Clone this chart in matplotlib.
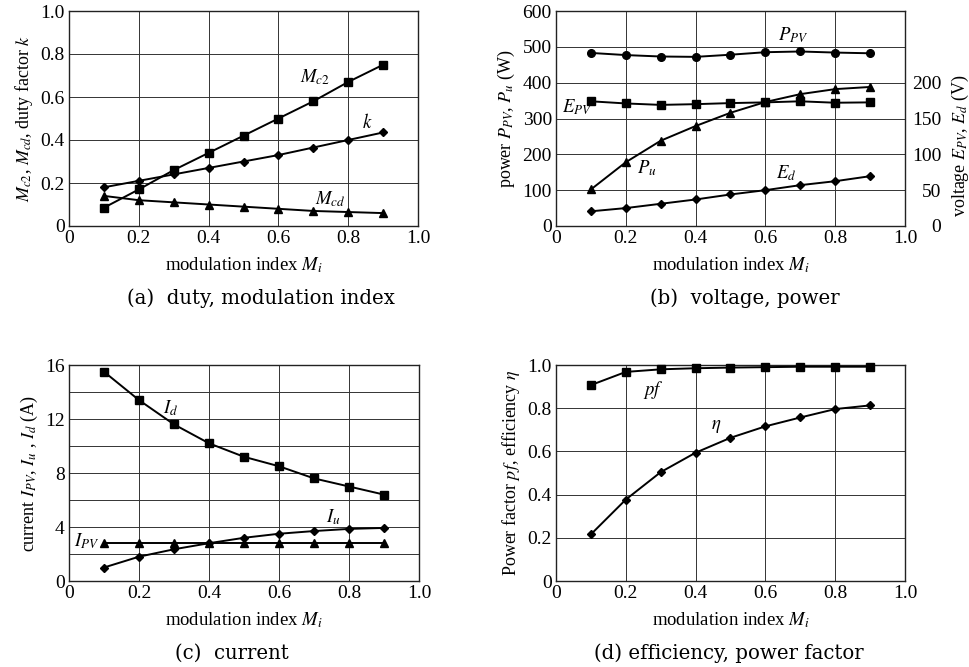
import matplotlib
matplotlib.use("Agg")
import matplotlib.pyplot as plt
from matplotlib.ticker import MultipleLocator

plt.rcParams['font.family'] = ['Liberation Serif', 'DejaVu Serif']
plt.rcParams['mathtext.fontset'] = 'stix'

# ---- data ----
mi = [0.1, 0.2, 0.3, 0.4, 0.5, 0.6, 0.7, 0.8, 0.9]

# (a) duty, modulation index
mc2 = [0.085, 0.17, 0.26, 0.34, 0.42, 0.50, 0.58, 0.67, 0.75]
k_factor = [0.18, 0.21, 0.24, 0.27, 0.30, 0.33, 0.365, 0.40, 0.435]
mcd = [0.14, 0.12, 0.11, 0.10, 0.09, 0.08, 0.07, 0.065, 0.06]

# (b) voltage, power
p_pv = [483, 477, 473, 472, 478, 485, 487, 484, 482]
p_u = [102, 178, 238, 279, 316, 346, 368, 382, 388]
e_pv = [174, 171, 169, 170, 171.5, 172.5, 174, 172, 172.5]
e_d = [20.5, 25, 31, 37, 44, 50, 57, 62.5, 69.5]

# (c) current
i_d = [15.5, 13.4, 11.6, 10.2, 9.2, 8.5, 7.6, 7.0, 6.4]
i_u = [1.0, 1.8, 2.35, 2.8, 3.2, 3.5, 3.7, 3.86, 3.93]
i_pv = [2.8, 2.8, 2.8, 2.8, 2.8, 2.8, 2.8, 2.8, 2.8]

# (d) efficiency, power factor
pf = [0.907, 0.968, 0.98, 0.985, 0.988, 0.99, 0.992, 0.992, 0.992]
eta = [0.216, 0.377, 0.504, 0.594, 0.663, 0.716, 0.757, 0.796, 0.813]

xticks = [0, 0.2, 0.4, 0.6, 0.8, 1.0]
xticklabels = ['0', '0.2', '0.4', '0.6', '0.8', '1.0']

W, H = 970, 667
fig = plt.figure(figsize=(W / 100, H / 100), dpi=100)

TICK_FS = 14
XLAB_FS = 13.5
YLAB_FS = 13
ANN_FS = 13.5
CAP_FS = 14.2
LW = 1.4
GRID_C = '#333333'
CAP_FONT = ['DejaVu Serif']


def box(l, t, r, b):
    return [l / W, 1 - b / H, (r - l) / W, (b - t) / H]


def style(ax, ymax, ystep, yticklabels, minor=None):
    ax.set_xlim(0, 1.0)
    ax.set_ylim(0, ymax)
    ax.set_xticks(xticks)
    ax.set_xticklabels(xticklabels)
    yt = [i * ystep for i in range(len(yticklabels))]
    ax.set_yticks(yt)
    ax.set_yticklabels(yticklabels)
    if minor is not None:
        ax.yaxis.set_minor_locator(MultipleLocator(minor))
        ax.grid(True, which='minor', axis='y', color=GRID_C, lw=0.7)
    ax.grid(True, which='major', color=GRID_C, lw=0.7)
    ax.set_axisbelow(True)
    ax.tick_params(which='both', length=0, labelsize=TICK_FS, pad=3)
    for s in ax.spines.values():
        s.set_linewidth(1.0)
        s.set_color('#222222')
    ax.set_xlabel('modulation index $M_i$', fontsize=XLAB_FS, labelpad=6)


def line(ax, y, marker, ms):
    ax.plot(mi, y, color='black', lw=LW, marker=marker, ms=ms,
            markeredgecolor='black', markerfacecolor='black', clip_on=False, zorder=3)


# (a)
ax = fig.add_axes(box(69, 11, 418, 226))
style(ax, 1.0, 0.2, ['0', '0.2', '0.4', '0.6', '0.8', '1.0'])
line(ax, mc2, 's', 6)
line(ax, k_factor, 'D', 4.2)
line(ax, mcd, '^', 6)
ax.text(0.705, 0.69, '$M_{c2}$', fontsize=ANN_FS, ha='center', va='center')
ax.text(0.855, 0.48, '$k$', fontsize=ANN_FS, ha='center', va='center')
ax.text(0.75, 0.125, '$M_{cd}$', fontsize=ANN_FS, ha='center', va='center')
ax.set_ylabel('$M_{c2}$, $M_{cd}$, duty factor $k$', fontsize=YLAB_FS, labelpad=4)

# (b)
ax = fig.add_axes(box(556, 11, 905, 226))
style(ax, 600, 100, ['0', '100', '200', '300', '400', '500', '600'])
line(ax, p_pv, 'o', 5.5)
line(ax, p_u, '^', 6)
ax.set_ylabel('power $P_{PV}$, $P_u$ (W)', fontsize=YLAB_FS, labelpad=4)
ax2 = ax.twinx()
ax2.set_ylim(0, 300)
ax2.set_yticks([0, 50, 100, 150, 200])
ax2.set_yticklabels(['0', '50', '100', '150', '200'])
ax2.tick_params(length=0, labelsize=TICK_FS, pad=26)
for t in ax2.get_yticklabels():
    t.set_horizontalalignment('right')
for s in ax2.spines.values():
    s.set_visible(False)
ax2.plot(mi, e_pv, color='black', lw=LW, marker='s', ms=6, clip_on=False, zorder=3)
ax2.plot(mi, e_d, color='black', lw=LW, marker='D', ms=4.2, clip_on=False, zorder=3)
ax2.set_ylabel('voltage $E_{PV}$, $E_d$ (V)', fontsize=YLAB_FS)
ax2.yaxis.label.set_verticalalignment('center')
ax2.yaxis.set_label_coords((960 - 556) / 349, (226 - 146) / 215)

ax.text(0.68, 533, '$P_{PV}$', fontsize=ANN_FS, ha='center', va='center')
ax.text(0.06, 332, '$E_{PV}$', fontsize=ANN_FS, ha='center', va='center')
ax.text(0.26, 162, '$P_u$', fontsize=ANN_FS, ha='center', va='center')
ax.text(0.66, 148, '$E_d$', fontsize=ANN_FS, ha='center', va='center')

# (c)
ax = fig.add_axes(box(69, 365, 419, 581))
style(ax, 16, 4, ['0', '4', '8', '12', '16'], minor=2)
line(ax, i_d, 's', 6)
line(ax, i_u, 'D', 4.2)
line(ax, i_pv, '^', 6)
ax.text(0.29, 12.8, '$I_d$', fontsize=ANN_FS, ha='center', va='center')
ax.text(0.755, 4.75, '$I_u$', fontsize=ANN_FS, ha='center', va='center')
ax.text(0.05, 2.95, '$I_{PV}$', fontsize=ANN_FS, ha='center', va='center')
ax.set_ylabel('current $I_{PV}$, $I_u$ , $I_d$ (A)', fontsize=YLAB_FS, labelpad=4)

# (d)
ax = fig.add_axes(box(556, 365, 905, 581))
style(ax, 1.0, 0.2, ['0', '0.2', '0.4', '0.6', '0.8', '1.0'])
line(ax, pf, 's', 6)
line(ax, eta, 'D', 4.2)
ax.text(0.28, 0.884, '$pf$', fontsize=ANN_FS, ha='center', va='center')
ax.text(0.46, 0.713, r'$\eta$', fontsize=ANN_FS, ha='center', va='center')
ax.set_ylabel(r'Power factor $pf$, efficiency $\eta$', fontsize=YLAB_FS, labelpad=4)

# captions
fig.text(261 / W, 1 - 298 / H, '(a)  duty, modulation index', fontsize=CAP_FS,
         family=CAP_FONT, ha='center', va='center')
fig.text(745 / W, 1 - 298 / H, '(b)  voltage, power', fontsize=CAP_FS,
         family=CAP_FONT, ha='center', va='center')
fig.text(232 / W, 1 - 653 / H, '(c)  current', fontsize=CAP_FS,
         family=CAP_FONT, ha='center', va='center')
fig.text(729 / W, 1 - 653 / H, '(d) efficiency, power factor', fontsize=CAP_FS,
         family=CAP_FONT, ha='center', va='center')

fig.savefig('out.png', dpi=100)
